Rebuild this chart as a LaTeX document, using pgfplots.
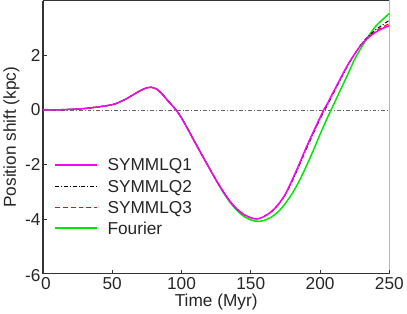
\documentclass[border=0pt]{standalone}
\usepackage{pgfplots}
\pgfplotsset{compat=1.18}
\usepackage{pgfplotstable}
\usepackage{fontspec}
\setmainfont{Liberation Sans}
\definecolor{axgray}{HTML}{333333}
\definecolor{symone}{HTML}{FF00FF}
\definecolor{symthree}{HTML}{FF0000}
\definecolor{fourier}{HTML}{00E600}
\newcommand{\bigf}{\fontsize{17.5}{20}\selectfont}

% t, SYMMLQ1, SYMMLQ2, SYMMLQ3, Fourier
\pgfplotstableread{
t    s1     s2     s3     f
0    0.00   0.00   0.00   0.00
10   0.00   0.00   0.00   0.00
20   0.02   0.02   0.02   0.02
30   0.05   0.05   0.05   0.05
40   0.11   0.11   0.11   0.11
50   0.19   0.19   0.19   0.19
55   0.28   0.28   0.28   0.28
60   0.40   0.40   0.40   0.40
65   0.55   0.55   0.55   0.55
70   0.70   0.70   0.70   0.70
75   0.81   0.81   0.81   0.81
78   0.83   0.83   0.83   0.83
82   0.76   0.76   0.76   0.77
86   0.58   0.58   0.58   0.59
90   0.34   0.34   0.34   0.35
96   0.00   0.00   0.00   0.01
100  -0.30  -0.30  -0.30  -0.28
105  -0.75  -0.75  -0.75  -0.73
110  -1.22  -1.22  -1.22  -1.20
115  -1.68  -1.68  -1.68  -1.66
120  -2.13  -2.13  -2.13  -2.12
125  -2.57  -2.57  -2.57  -2.58
130  -2.98  -2.98  -2.98  -3.01
135  -3.35  -3.35  -3.35  -3.38
140  -3.63  -3.63  -3.63  -3.68
145  -3.83  -3.83  -3.83  -3.90
150  -3.95  -3.95  -3.95  -4.03
153  -3.99  -3.99  -3.99  -4.07
156  -3.98  -3.98  -3.98  -4.08
160  -3.89  -3.89  -3.89  -4.04
165  -3.72  -3.72  -3.72  -3.92
170  -3.45  -3.46  -3.45  -3.72
175  -3.08  -3.10  -3.08  -3.42
180  -2.55  -2.60  -2.56  -3.05
185  -1.98  -2.03  -1.99  -2.60
190  -1.38  -1.44  -1.39  -2.07
195  -0.82  -0.88  -0.83  -1.50
200  -0.28  -0.34  -0.29  -0.90
203  0.03   -0.03  0.02   -0.55
205  0.20   0.14   0.19   -0.32
208  0.50   0.45   0.49   0.00
210  0.69   0.64   0.68   0.22
215  1.18   1.14   1.17   0.76
220  1.65   1.62   1.64   1.30
225  2.05   2.04   2.05   1.85
230  2.40   2.42   2.41   2.30
235  2.65   2.70   2.68   2.70
240  2.84   2.93   2.88   3.05
245  2.98   3.11   3.03   3.30
250  3.08   3.28   3.16   3.53
}\shifttab

\tikzset{
  s1style/.style={color=symone, line width=1.5pt},
  s2style/.style={color=black, line width=1pt, dash pattern=on 4bp off 2bp on 1bp off 2bp},
  s3style/.style={color=symthree, line width=1.1pt, dash pattern=on 5bp off 3bp},
  fstyle/.style={color=fourier, line width=1.5pt},
  legtext/.style={anchor=west, font=\bigf, text=black!85, text height=12.5bp, text depth=0pt, inner sep=0pt},
}

\begin{document}
\begin{tikzpicture}
\begin{axis}[
  scale only axis,
  width=350bp, height=276bp,
  xmin=0, xmax=250, ymin=-6, ymax=4,
  xtick={0,50,100,150,200,250},
  xticklabels={\hspace*{6bp}0,50,100,150,200,250},
  ytick={-6,-4,-2,0,2},
  yticklabels={\raisebox{-8bp}[0pt][0pt]{-6},-4,-2,0,2},
  axis x line*=bottom, axis y line*=left,
  axis line style={axgray, line width=1.3pt, -},
  tick style={axgray, line width=0.8pt},
  tick align=inside,
  major tick length=4bp,
  /pgf/number format/assume math mode=true,
  tick label style={font=\bigf, text=black!85},
  yticklabel style={xshift=1bp},
  label style={font=\bigf, text=black!85},
  xlabel={Time (Myr)}, ylabel={Position shift (kpc)},
  xlabel style={yshift=2bp},
  ylabel style={yshift=-1bp},
]
  % boxed top and right edges without ticks
  \draw[axgray, line width=1.3pt] (axis cs:0,4) -- (axis cs:250,4) -- (axis cs:250,-6);
  \addplot[gray!80!black, line width=0.6pt, dash pattern=on 4bp off 2bp on 1bp off 2bp]
    coordinates {(0,0)(250,0)};
  \addplot[fstyle, smooth] table[x=t, y=f] {\shifttab};
  \addplot[s3style, smooth] table[x=t, y=s3] {\shifttab};
  \addplot[s2style, smooth] table[x=t, y=s2] {\shifttab};
  \addplot[s1style, smooth] table[x=t, y=s1] {\shifttab};
  % legend (drawn by hand, thicker lines so they stay visible)
  \draw[s1style, line width=1.8pt] (axis description cs:0.034,0.399) -- (axis description cs:0.157,0.399);
  \node[legtext] at (axis description cs:0.186,0.399) {SYMMLQ1};
  \draw[s2style, line width=1.2pt] (axis description cs:0.034,0.319) -- (axis description cs:0.157,0.319);
  \node[legtext] at (axis description cs:0.186,0.319) {SYMMLQ2};
  \draw[s3style, line width=1.5pt] (axis description cs:0.034,0.243) -- (axis description cs:0.157,0.243);
  \node[legtext] at (axis description cs:0.186,0.243) {SYMMLQ3};
  \draw[fstyle, line width=1.8pt] (axis description cs:0.034,0.167) -- (axis description cs:0.157,0.167);
  \node[legtext] at (axis description cs:0.186,0.167) {Fourier};
\end{axis}
\end{tikzpicture}
\end{document}
